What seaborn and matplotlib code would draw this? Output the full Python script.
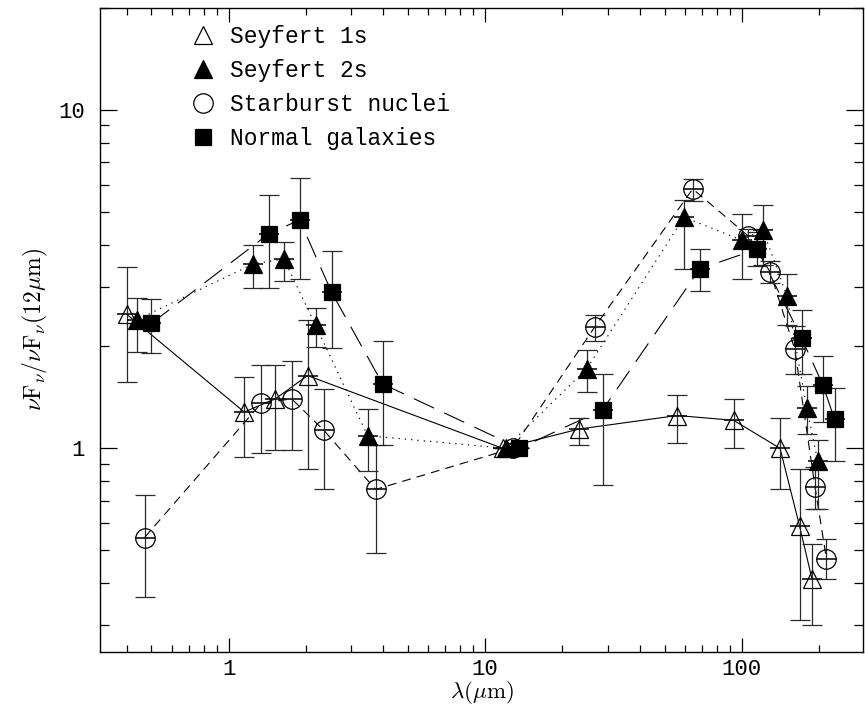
import numpy as np
import pandas as pd
import matplotlib
matplotlib.use("Agg")
import matplotlib.pyplot as plt
from matplotlib.lines import Line2D
from matplotlib import ticker
import seaborn as sns

# ---------------- data ----------------
series_names = ["Seyfert 1s", "Seyfert 2s", "Starburst nuclei", "Normal galaxies"]

sy1_wl = [0.40, 1.15, 1.52, 2.03, 11.7, 23.2, 56.0, 93.0, 141.0, 168.0, 188.0]
sy1_val = [2.49, 1.28, 1.40, 1.64, 1.00, 1.14, 1.25, 1.21, 1.00, 0.59, 0.41]
sy1_hi = [3.43, 1.62, 1.76, 2.39, 1.00, 1.23, 1.44, 1.40, 1.23, 0.87, 0.52]
sy1_lo = [1.57, 0.94, 0.99, 0.87, 1.00, 1.02, 1.04, 1.00, 0.76, 0.31, 0.30]

sy2_wl = [0.44, 1.24, 1.64, 2.18, 3.48, 12.0, 24.9, 59.6, 100.0, 121.0, 150.0, 179.0, 198.0]
sy2_val = [2.40, 3.50, 3.63, 2.31, 1.09, 1.00, 1.72, 4.82, 4.12, 4.42, 2.82, 1.32, 0.915]
sy2_hi = [2.78, 3.99, 4.07, 2.59, 1.31, 1.00, 1.95, 5.42, 4.93, 5.23, 3.27, 1.53, 1.06]
sy2_lo = [1.92, 2.97, 3.12, 1.99, 0.855, 1.00, 1.47, 3.39, 3.16, 3.48, 2.31, 1.10, 0.66]

sb_wl = [0.47, 1.34, 1.76, 2.35, 3.74, 12.8, 26.7, 64.4, 106.0, 129.0, 161.0, 193.0, 214.0]
sb_val = [0.545, 1.36, 1.40, 1.13, 0.756, 1.00, 2.28, 5.84, 4.24, 3.32, 1.96, 0.77, 0.47]
sb_hi = [0.726, 1.76, 1.81, 1.50, 1.02, 1.00, 2.47, 6.25, 4.45, 3.57, 2.30, 0.88, 0.54]
sb_lo = [0.363, 0.966, 0.987, 0.756, 0.49, 1.00, 2.07, 5.38, 4.05, 3.08, 1.66, 0.66, 0.41]

nm_wl = [0.50, 1.43, 1.89, 2.52, 3.98, 13.6, 28.7, 68.6, 115.0, 171.0, 207.0, 230.0]
nm_val = [2.34, 4.30, 4.73, 2.89, 1.55, 1.00, 1.30, 3.39, 3.88, 2.12, 1.54, 1.22]
nm_hi = [2.76, 5.61, 6.30, 3.83, 2.07, 1.00, 1.66, 3.88, 4.35, 2.56, 1.88, 1.51]
nm_lo = [1.91, 2.97, 3.16, 1.98, 1.02, 1.00, 0.78, 2.92, 3.45, 1.66, 1.20, 0.92]

x_ticks = [1, 10, 100]
y_ticks = [1, 10]

# ---------------- build long-form table ----------------
frames = []
for name, wl, val, hi, lo in zip(
    series_names,
    [sy1_wl, sy2_wl, sb_wl, nm_wl],
    [sy1_val, sy2_val, sb_val, nm_val],
    [sy1_hi, sy2_hi, sb_hi, nm_hi],
    [sy1_lo, sy2_lo, sb_lo, nm_lo],
):
    frames.append(pd.DataFrame({"series": name, "wl": wl, "ratio": val,
                                "hi": hi, "lo": lo, "order": np.arange(len(wl))}))
df = pd.concat(frames, ignore_index=True)

# ---------------- style ----------------
sns.set_theme(style="ticks")
plt.rcParams["font.family"] = ["Liberation Mono", "DejaVu Sans"]
plt.rcParams["mathtext.fontset"] = "cm"
plt.rcParams["axes.linewidth"] = 1.0

markers = {"Seyfert 1s": "^", "Seyfert 2s": "^", "Starburst nuclei": "o", "Normal galaxies": "s"}
filled = {"Seyfert 1s": False, "Seyfert 2s": True, "Starburst nuclei": False, "Normal galaxies": True}
msize = {"Seyfert 1s": 13, "Seyfert 2s": 13, "Starburst nuclei": 14, "Normal galaxies": 11}
lw = 0.8
dashes = {"Seyfert 1s": "", "Seyfert 2s": (1.2, 4.5),
          "Starburst nuclei": (8, 5.5), "Normal galaxies": (20, 10)}

fig = plt.figure(figsize=(8.65, 7.08), dpi=100)
ax = fig.add_axes([0.1156, 0.079, 0.8821, 0.9097])

sns.lineplot(data=df, x="wl", y="ratio", hue="series", style="series",
             units="series", estimator=None, sort=False,
             palette={n: "black" for n in series_names},
             dashes=dashes, linewidth=lw, legend=False, ax=ax)

half_dex = 0.039  # half-width of the small horizontal bar through markers
for name in series_names:
    sub = df[df["series"] == name]
    x = sub["wl"].to_numpy()
    y = sub["ratio"].to_numpy()
    yerr = np.vstack([y - sub["lo"].to_numpy(), sub["hi"].to_numpy() - y])
    xerr = np.vstack([x - x / 10**half_dex, x * 10**half_dex - x])
    ax.errorbar(x, y, yerr=yerr, fmt="none", ecolor="#2a2a2a",
                elinewidth=0.9, capsize=7, capthick=0.9, zorder=3)
    ax.errorbar(x, y, xerr=xerr, fmt="none", ecolor="#111111",
                elinewidth=1.2, capsize=0, zorder=3)
    ax.plot(x, y, ls="none", marker=markers[name], ms=msize[name],
            mfc="black" if filled[name] else "none", mec="black",
            mew=0.9, zorder=4)

ax.set_xscale("log")
ax.set_yscale("log")
ax.set_xlim(0.315, 297)
ax.set_ylim(0.25, 20)

ax.xaxis.set_major_locator(ticker.FixedLocator(x_ticks))
ax.yaxis.set_major_locator(ticker.FixedLocator(y_ticks))
ax.xaxis.set_major_formatter(ticker.FuncFormatter(lambda v, p: f"{v:g}"))
ax.yaxis.set_major_formatter(ticker.FuncFormatter(lambda v, p: f"{v:g}"))
ax.xaxis.set_minor_locator(ticker.LogLocator(base=10, subs=np.arange(2, 10)))
ax.yaxis.set_minor_locator(ticker.LogLocator(base=10, subs=np.arange(2, 10)))
ax.xaxis.set_minor_formatter(ticker.NullFormatter())
ax.yaxis.set_minor_formatter(ticker.NullFormatter())

ax.tick_params(which="both", direction="in", top=True, right=True,
               color="black", width=0.9, labelsize=16, labelcolor="black")
ax.tick_params(axis="x", which="major", length=10, pad=5)
ax.tick_params(axis="x", which="minor", length=5)
ax.tick_params(axis="y", which="major", length=12, pad=11)
ax.tick_params(axis="y", which="minor", length=6.5)
for s in ax.spines.values():
    s.set_color("black")

ax.set_xlabel(r"$\lambda(\mu{\rm m})$", fontsize=16.5, labelpad=-1, color="black")
ax.set_ylabel(r"$\nu{\rm F}_{\nu}/\nu{\rm F}_{\nu}(12\mu{\rm m})$", fontsize=17,
              labelpad=6, color="black")

handles = [Line2D([], [], ls="none", marker=markers[n], ms=msize[n],
                  mfc="black" if filled[n] else "none", mec="black", mew=0.9)
           for n in series_names]
ax.legend(handles, series_names, loc="upper left", bbox_to_anchor=(0.12, 0.974),
          frameon=False, fontsize=16.5, handlelength=1.0, handletextpad=0.68,
          borderpad=0, borderaxespad=0, labelspacing=0.48, labelcolor="black")

fig.savefig("out.png", dpi=100)
